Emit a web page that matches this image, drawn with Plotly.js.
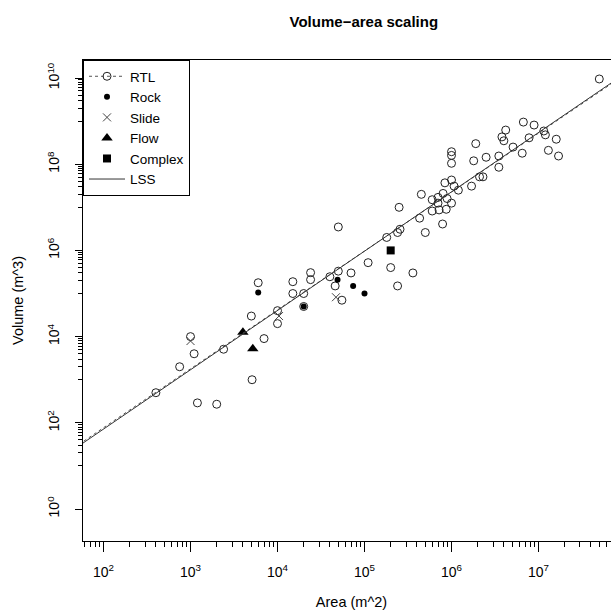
<!DOCTYPE html>
<html>
<head>
<meta charset="utf-8">
<script src="https://cdn.plot.ly/plotly-3.0.1.min.js"></script>
<style>
  html, body { margin: 0; padding: 0; overflow: hidden; background: #fff; }
  #chart { width: 625px; height: 613px; }
</style>
</head>
<body>
<div id="chart"></div>
<script>
// Landslide inventories: planform area (m^2) vs volume (m^3)
const rtlArea = [400, 750, 1100, 1000, 1200, 2000, 2400, 5100, 7000, 5000,
  6000, 10000, 10000, 15000, 15000, 20000, 20000, 24000, 24000, 55000,
  46000, 50000, 40000, 70000, 50000, 110000, 200000, 240000, 360000, 180000,
  240000, 256000, 250000, 430000, 500000, 790000, 450000, 600000, 600000, 700000,
  720000, 800000, 890000, 870000, 1e6, 840000, 1e6, 1.07e6, 1.2e6, 700000,
  1e6, 1e6, 1e6, 1.9e6, 1.8e6, 2.5e6, 1.7e6, 2.1e6, 2.3e6, 3.5e6,
  3.5e6, 3.8e6, 4e6, 4.2e6, 5.1e6, 6.5e6, 6.7e6, 8.9e6, 7.8e6, 1.15e7,
  1.2e7, 1.6e7, 1.3e7, 1.7e7, 5e7];
const rtlVolume = [500, 2000, 4000, 10000, 290, 270, 5100, 1000, 9000, 30000,
  178000, 40000, 20000, 188000, 100000, 100000, 50000, 305000, 210000, 70000,
  150000, 330000, 245000, 300000, 3.5e6, 520000, 400000, 150000, 300000, 2e6,
  2.6e6, 3.1e6, 1.0e7, 5.6e6, 2.6e6, 4.1e6, 2e7, 1.5e7, 8.2e6, 1.7e7,
  8.7e6, 2.1e7, 1.6e7, 9e6, 1.25e7, 3.7e7, 4.3e7, 3.1e7, 2.5e7, 1.25e7,
  1.95e8, 1.6e8, 1.05e8, 3e8, 1.2e8, 1.45e8, 3.1e7, 5.1e7, 5.1e7, 1.55e8,
  8.5e7, 4.3e8, 3.5e8, 6.2e8, 2.5e8, 1.8e8, 9.5e8, 8.1e8, 4.1e8, 5.9e8,
  4.8e8, 3.8e8, 2.1e8, 1.55e8, 9.5e9];

const rockArea = [6000, 20000, 49000, 74000, 100000];
const rockVolume = [105000, 50000, 210000, 150000, 100000];

const slideArea = [1000, 10400, 47000];
const slideVolume = [7900, 30000, 82000];

const flowArea = [4000, 5200];
const flowVolume = [12600, 5200];

const complexArea = [200000];
const complexVolume = [1e6];

// Fitted scaling lines, given by their end points
const rtlFitArea = [40, 1e8];
const rtlFitVolume = [22, 1.22e10];
const lssFitArea = [40, 1e8];
const lssFitVolume = [20.3, 1.29e10];

// Axis ticks
const xTickVals = [1e2, 1e3, 1e4, 1e5, 1e6, 1e7];
const xTickText = ['10<sup>2</sup>', '10<sup>3</sup>', '10<sup>4</sup>', '10<sup>5</sup>', '10<sup>6</sup>', '10<sup>7</sup>'];
const yTickVals = [1, 1e2, 1e4, 1e6, 1e8, 1e10];
const yTickText = ['10<sup>0</sup>', '10<sup>2</sup>', '10<sup>4</sup>', '10<sup>6</sup>', '10<sup>8</sup>', '10<sup>10</sup>'];
const mantissas = [2, 3, 4, 5, 6, 7, 8, 9];
const xMinorDecades = [1e1, 1e2, 1e3, 1e4, 1e5, 1e6, 1e7];
const yMinorDecades = [1e1, 1e3, 1e5, 1e7, 1e9];

const xMinor = [];
xMinorDecades.forEach(d => mantissas.forEach(m => xMinor.push(m * d)));
const yMinor = [];
yMinorDecades.forEach(d => { yMinor.push(d); mantissas.forEach(m => yMinor.push(m * d)); });

const FONT = 'Liberation Sans, Arial, sans-serif';
const INK = '#222';

const traces = [
  { x: rtlArea, y: rtlVolume, mode: 'markers', name: 'RTL', showlegend: false, legendgroup: 'rtl',
    marker: { symbol: 'circle-open', size: 8, color: INK, line: { width: 1, color: INK } } },
  { x: rockArea, y: rockVolume, mode: 'markers', name: 'Rock', legendrank: 2,
    marker: { symbol: 'circle', size: 6, color: '#000' } },
  { x: slideArea, y: slideVolume, mode: 'markers', name: 'Slide', legendrank: 3,
    marker: { symbol: 'x-thin-open', size: 8, color: '#444', line: { width: 1, color: '#444' } } },
  { x: flowArea, y: flowVolume, mode: 'markers', name: 'Flow', legendrank: 4,
    marker: { symbol: 'triangle-up', size: 10, color: '#000' } },
  { x: complexArea, y: complexVolume, mode: 'markers', name: 'Complex', legendrank: 5,
    marker: { symbol: 'square', size: 8, color: '#000' } },
  { x: rtlFitArea, y: rtlFitVolume, mode: 'lines+markers', name: 'RTL', legendgroup: 'rtl', legendrank: 1,
    line: { color: '#555', width: 1, dash: '3px,3px' },
    marker: { symbol: 'circle-open', size: 8, color: INK, line: { width: 1, color: INK } } },
  { x: lssFitArea, y: lssFitVolume, mode: 'lines', name: 'LSS', legendrank: 6,
    line: { color: '#333', width: 1 } }
];

const layout = {
  width: 625, height: 613,
  margin: { l: 83, r: 5, t: 60, b: 72 },
  paper_bgcolor: '#fff', plot_bgcolor: '#fff',
  font: { family: FONT, color: '#000', size: 13 },
  title: { text: '<b>Volume\u2212area scaling</b>', font: { size: 15, family: FONT },
           x: 0.523, xref: 'paper', xanchor: 'center', y: 1 - 22 / 613, yref: 'container', yanchor: 'middle' },
  showlegend: true,
  legend: { x: 0, y: 1, xanchor: 'left', yanchor: 'top', bgcolor: '#fff',
            bordercolor: '#000', borderwidth: 1, font: { size: 13.5, family: FONT },
            itemwidth: 36, tracegroupgap: 0 },
  xaxis: {
    type: 'log', range: [1.764, 7.937], autorange: false,
    showgrid: false, zeroline: false,
    showline: true, linecolor: '#000', linewidth: 1, mirror: true,
    ticks: 'outside', ticklen: 10, tickcolor: '#000', tickwidth: 1,
    tickmode: 'array', tickvals: xTickVals, ticktext: xTickText,
    tickfont: { size: 14, family: FONT }, ticklabelstandoff: 8,
    minor: { tickmode: 'array', tickvals: xMinor, ticks: 'outside', ticklen: 5, tickcolor: '#000', tickwidth: 1, showgrid: false },
    title: { text: 'Area (m^2)', font: { size: 14.5, family: FONT }, standoff: 18 }
  },
  yaxis: {
    type: 'log', range: [-0.742, 10.418], autorange: false,
    showgrid: false, zeroline: false,
    showline: true, linecolor: '#000', linewidth: 1, mirror: true,
    ticks: 'outside', ticklen: 7, tickcolor: '#000', tickwidth: 1,
    tickmode: 'array', tickvals: yTickVals, ticktext: yTickText, tickangle: -90,
    tickfont: { size: 14, family: FONT }, ticklabelstandoff: 10,
    minor: { tickmode: 'array', tickvals: yMinor, ticks: 'outside', ticklen: 4, tickcolor: '#000', tickwidth: 1, showgrid: false },
    title: { text: 'Volume (m^3)', font: { size: 14.5, family: FONT }, standoff: 17 }
  }
};

Plotly.newPlot('chart', traces, layout, { displayModeBar: false, staticPlot: true });
</script>
</body>
</html>
